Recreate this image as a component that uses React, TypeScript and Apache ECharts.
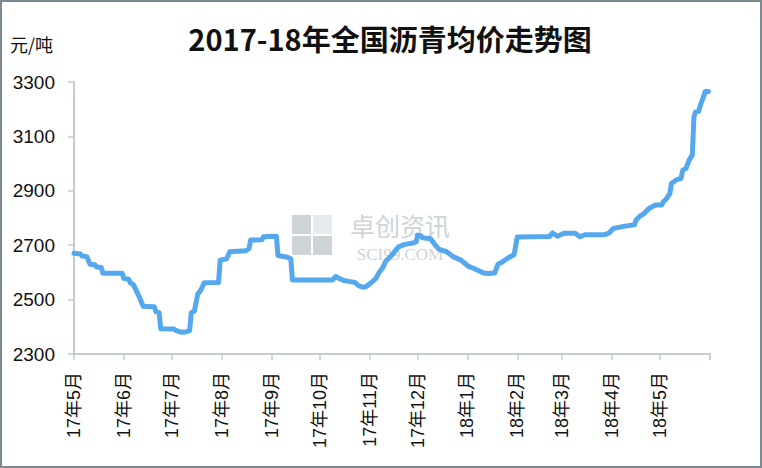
import React, { useEffect, useRef } from "react";
import * as echarts from "echarts";

const titleText = "2017-18年全国沥青均价走势图";
const unitText = "元/吨";

const dates = [
  "2017-05-01", "2017-05-05", "2017-05-06", "2017-05-09", "2017-05-11", "2017-05-14", "2017-05-15", "2017-05-18",
  "2017-05-19", "2017-05-31", "2017-06-01", "2017-06-04", "2017-06-05", "2017-06-07", "2017-06-09", "2017-06-11",
  "2017-06-13", "2017-06-20", "2017-06-21", "2017-06-23", "2017-06-24", "2017-07-02", "2017-07-04", "2017-07-07",
  "2017-07-10", "2017-07-12", "2017-07-13", "2017-07-15", "2017-07-17", "2017-07-19", "2017-07-21", "2017-07-30",
  "2017-07-31", "2017-08-04", "2017-08-06", "2017-08-16", "2017-08-18", "2017-08-19", "2017-08-26", "2017-08-27",
  "2017-09-04", "2017-09-05", "2017-09-11", "2017-09-13", "2017-09-14", "2017-10-09", "2017-10-11", "2017-10-13",
  "2017-10-16", "2017-10-20", "2017-10-23", "2017-10-25", "2017-10-28", "2017-10-30", "2017-11-02", "2017-11-05",
  "2017-11-07", "2017-11-09", "2017-11-11", "2017-11-15", "2017-11-19", "2017-11-23", "2017-11-28", "2017-11-30",
  "2017-12-01", "2017-12-03", "2017-12-04", "2017-12-09", "2017-12-12", "2017-12-14", "2017-12-19", "2017-12-23",
  "2017-12-28", "2017-12-31", "2018-01-02", "2018-01-06", "2018-01-11", "2018-01-14", "2018-01-18", "2018-01-20",
  "2018-01-22", "2018-01-26", "2018-01-29", "2018-01-30", "2018-02-01", "2018-02-21", "2018-02-23", "2018-02-26",
  "2018-03-02", "2018-03-09", "2018-03-12", "2018-03-15", "2018-03-27", "2018-03-30", "2018-04-02", "2018-04-10",
  "2018-04-15", "2018-04-16", "2018-04-18", "2018-04-21", "2018-04-24", "2018-04-28", "2018-05-02", "2018-05-03",
  "2018-05-05", "2018-05-07", "2018-05-08", "2018-05-11", "2018-05-14", "2018-05-15", "2018-05-17", "2018-05-19",
  "2018-05-21", "2018-05-22", "2018-05-23", "2018-05-25", "2018-05-26", "2018-05-28", "2018-05-29", "2018-05-31",
];

const prices = [
  2670, 2668, 2660, 2658, 2630, 2628, 2620, 2618,
  2597, 2597, 2578, 2575, 2562, 2555, 2530, 2505,
  2476, 2474, 2455, 2452, 2393, 2392, 2385, 2380,
  2382, 2386, 2452, 2458, 2520, 2535, 2562, 2563,
  2645, 2650, 2676, 2680, 2688, 2719, 2720, 2731,
  2733, 2662, 2656, 2650, 2572, 2572, 2585, 2578,
  2570, 2566, 2563, 2552, 2545, 2548, 2562, 2578,
  2600, 2615, 2640, 2664, 2694, 2703, 2708, 2712,
  2737, 2735, 2727, 2724, 2700, 2686, 2676, 2658,
  2645, 2630, 2621, 2612, 2598, 2596, 2598, 2630,
  2636, 2652, 2662, 2665, 2730, 2732, 2745, 2733,
  2744, 2744, 2731, 2738, 2738, 2744, 2762, 2771,
  2775, 2793, 2805, 2817, 2835, 2848, 2848, 2860,
  2872, 2890, 2927, 2940, 2946, 2976, 2982, 3013,
  3032, 3172, 3190, 3192, 3215, 3246, 3265, 3265,
];

const axisStart = "2017-05-01";
const axisEnd = "2018-06-01";
const yMin = 2300;
const yMax = 3300;
const yStep = 200;

const DAY = 24 * 3600 * 1000;

export default function App() {
  const ref = useRef<HTMLDivElement>(null);

  useEffect(() => {
    if (!ref.current) return;
    const chart = echarts.init(ref.current, null, { renderer: "svg" });
    const data = dates.map((d, i) => [d, prices[i]]);
    const wm = "#cdd4d7";
    chart.setOption({
      animation: false,
      backgroundColor: "#ffffff",
      grid: { left: 74, right: 52, top: 82, bottom: 114, containLabel: false },
      xAxis: {
        type: "time",
        min: axisStart,
        max: axisEnd,
        splitNumber: 13,
        minInterval: 28 * DAY,
        maxInterval: 31 * DAY,
        axisLine: { show: true, lineStyle: { color: "#c3cdd0", width: 2 } },
        axisTick: { show: true, length: 6, lineStyle: { color: "#c3cdd0", width: 1.5 } },
        splitLine: { show: false },
        axisLabel: {
          rotate: 90,
          margin: 18,
          fontSize: 18,
          color: "#111",
          fontFamily: "Liberation Sans, Noto Sans CJK SC",
          hideOverlap: false,
          showMinLabel: true,
          showMaxLabel: true,
          formatter: (v: number) => {
            const d = new Date(v);
            if (d.getFullYear() === 2018 && d.getMonth() === 5) return "";
            return `${String(d.getFullYear()).slice(2)}年${d.getMonth() + 1}月`;
          },
        },
      },
      yAxis: {
        type: "value",
        min: yMin,
        max: yMax,
        interval: yStep,
        axisLine: { show: true, lineStyle: { color: "#c3cdd0", width: 2 } },
        axisTick: { show: true, length: 6, lineStyle: { color: "#c3cdd0", width: 1.5 } },
        splitLine: { show: false },
        axisLabel: {
          margin: 19,
          fontSize: 19,
          color: "#111",
          fontFamily: "Liberation Sans",
          formatter: (v: number) => String(v),
        },
      },
      graphic: [
        {
          type: "rect",
          z: 100,
          silent: true,
          shape: { x: 1, y: 1, width: 760, height: 466 },
          style: { fill: "none", stroke: "#7d8990", lineWidth: 2 },
        },
        {
          type: "text",
          x: 390,
          y: 38,
          style: {
            text: titleText,
            fontSize: 29,
            fontWeight: "bold",
            fontFamily: "Noto Sans CJK SC",
            fill: "#111",
            textAlign: "center",
            textVerticalAlign: "middle",
          },
        },
        {
          type: "text",
          x: 10,
          y: 44,
          style: {
            text: unitText,
            fontSize: 18,
            fontFamily: "Noto Sans CJK SC",
            fill: "#111",
            textAlign: "left",
            textVerticalAlign: "middle",
          },
        },
        { type: "rect", z: 0, silent: true, shape: { x: 292, y: 215, width: 19, height: 19 }, style: { fill: wm } },
        { type: "rect", z: 0, silent: true, shape: { x: 313, y: 215, width: 19, height: 19 }, style: { fill: "#e6eaec" } },
        { type: "rect", z: 0, silent: true, shape: { x: 292, y: 236, width: 19, height: 19 }, style: { fill: wm } },
        { type: "rect", z: 0, silent: true, shape: { x: 313, y: 236, width: 19, height: 19 }, style: { fill: wm } },
        {
          type: "text",
          z: 0,
          silent: true,
          x: 400,
          y: 225,
          style: {
            text: "卓创资讯",
            fontSize: 25,
            fontFamily: "Noto Sans CJK SC",
            fill: wm,
            textAlign: "center",
            textVerticalAlign: "middle",
          },
        },
        {
          type: "text",
          z: 0,
          silent: true,
          x: 400,
          y: 254,
          style: {
            text: "SCI99.COM",
            fontSize: 17,
            fontFamily: "Liberation Serif",
            fill: wm,
            textAlign: "center",
            textVerticalAlign: "middle",
          },
        },
      ],
      series: [
        {
          type: "line",
          data,
          showSymbol: false,
          symbol: "none",
          z: 5,
          lineStyle: { color: "#55a8ee", width: 5, cap: "round", join: "round" },
        },
      ],
    });
    return () => chart.dispose();
  }, []);

  return (
    <div
      ref={ref}
      style={{ position: "fixed", left: 0, top: 0, width: 762, height: 468, background: "#fff" }}
    />
  );
}
